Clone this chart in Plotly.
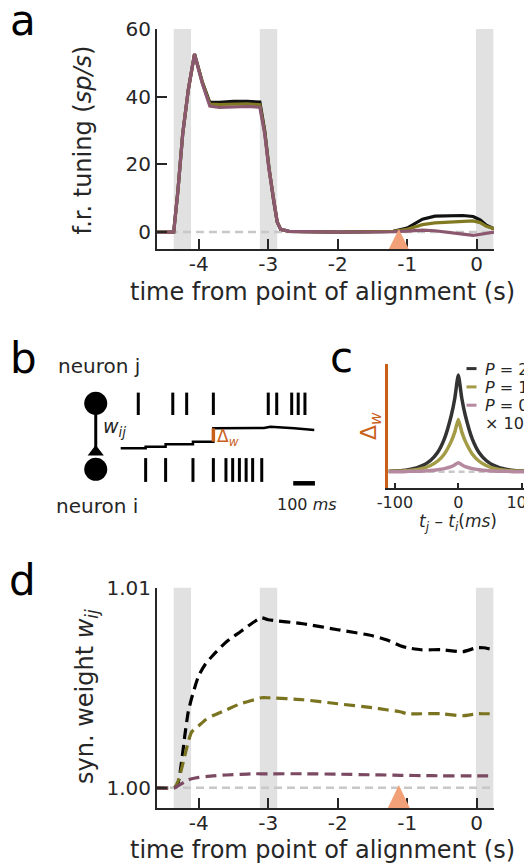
import plotly.graph_objects as go

W, H = 532, 865
OFF = 8  # page body margin offset of the rendered figure
FONT = "DejaVu Sans"
INK = "#262626"
ORANGE = "#c8601a"
TRI = "#f2a077"
BAND = "#e1e1e1"
GRAYDASH = "#c8c8c8"


def px(x):
    return (x - OFF) / W


def py(y):
    return 1 - (y - OFF) / H


# ---------------- data: panel a (firing-rate tuning, sp/s) ----------------
t_a = [-4.6, -4.36, -4.3, -4.23, -4.15, -4.06, -3.95, -3.84, -3.7, -3.5, -3.3, -3.12,
       -3.05, -2.99, -2.92, -2.87, -2.82, -2.7, -2.0, -1.5, -1.2, -1.0, -0.9, -0.78,
       -0.6, -0.4, -0.2, -0.05, 0.05, 0.14, 0.25]
fr_black = [0, 0, 12, 29, 42, 52.6, 44.5, 38.3, 38.3, 38.6, 38.6, 38.4,
            30, 19.3, 9, 3, 0.8, 0.2, 0, 0, 0.2, 1.2, 2.4, 3.8,
            4.7, 4.8, 4.9, 4.6, 3.6, 2.0, 1.0]
fr_olive = [0, 0, 12, 29, 42, 52.6, 44.3, 37.8, 37.7, 37.9, 37.9, 37.6,
            29.5, 19.0, 9, 3, 0.8, 0.2, 0, 0, 0.2, 0.8, 1.5, 2.2,
            2.7, 3.0, 3.2, 3.3, 2.8, 1.7, 1.0]
fr_purple = [0, 0, 12, 29, 42, 52.6, 44.0, 37.2, 36.8, 37.0, 37.1, 36.9,
             29.0, 18.8, 8.8, 3, 0.8, 0.2, 0, 0, 0.1, 0.3, 0.5, 0.6,
             0.4, 0.0, -0.6, -1.0, -0.6, -0.2, 0.0]

# ---------------- data: panel d (synaptic weight) ----------------
t_d = [-4.6, -4.35, -4.3, -4.25, -4.2, -4.15, -4.1, -4.0, -3.9, -3.8, -3.6, -3.4, -3.2,
       -3.1, -3.0, -2.5, -2.0, -1.5, -1.3, -1.1, -1.0, -0.8, -0.5, -0.2, 0.0, 0.1, 0.25]
w_black = [1.0, 1.0, 1.0002, 1.0012, 1.0026, 1.0038, 1.0045, 1.0056, 1.0062, 1.0066,
           1.0073, 1.0078, 1.0083, 1.0085, 1.0084, 1.0082, 1.0079, 1.0076, 1.0074,
           1.0071, 1.0070, 1.0069, 1.0069, 1.0068, 1.0070, 1.0070, 1.0069]
w_olive = [1.0, 1.0, 1.0003, 1.0009, 1.0016, 1.0023, 1.0028, 1.0031, 1.0034, 1.0036,
           1.0039, 1.0042, 1.0044, 1.0045, 1.0045, 1.0044, 1.0042, 1.0040, 1.0039,
           1.0038, 1.0037, 1.0037, 1.0037, 1.0036, 1.0037, 1.0037, 1.0037]
w_purple = [1.0, 1.0, 1.0001, 1.0002, 1.0003, 1.0004, 1.00045, 1.00052, 1.00056, 1.0006,
            1.00064, 1.00067, 1.0007, 1.0007, 1.0007, 1.0007, 1.00068, 1.00065, 1.00064,
            1.00062, 1.00062, 1.00061, 1.0006, 1.0006, 1.0006, 1.0006, 1.0006]

# ---------------- data: panel c (STDP window, x10^-4) ----------------
t_c = [-110, -99, -88, -77, -66, -55, -44, -33, -22, -11, -5.5, 0,
       5.5, 11, 22, 33, 44, 55, 66, 77, 88, 99, 110]
dw_black = [0.01, 0.02, 0.03, 0.06, 0.10, 0.17, 0.29, 0.49, 0.85, 1.46, 1.90, 2.50,
            1.90, 1.46, 0.85, 0.49, 0.29, 0.17, 0.10, 0.06, 0.03, 0.02, 0.01]
dw_olive = [0.01, 0.01, 0.02, 0.03, 0.05, 0.09, 0.16, 0.27, 0.46, 0.79, 1.03, 1.35,
            1.03, 0.79, 0.46, 0.27, 0.16, 0.09, 0.05, 0.03, 0.02, 0.01, 0.01]
dw_purple = [0, 0, 0, 0.01, 0.01, 0.02, 0.03, 0.05, 0.08, 0.13, 0.18, 0.23,
             0.18, 0.13, 0.08, 0.05, 0.03, 0.02, 0.01, 0.01, 0, 0, 0]
legend_labels = ["<i>P</i> = 2.5", "<i>P</i> = 1.35", "<i>P</i> = 0.23"]

# ---------------- data: panel b (schematic spike trains, ms) ----------------
spikes_j = [81, 240, 304, 427, 680, 719, 788, 818, 849]
spikes_i = [115, 207, 333, 427, 485, 516, 547, 578, 608, 650]
wtrace_t = [0, 115, 115, 207, 207, 333, 333, 427, 427, 660, 690, 730, 800, 892]
wtrace_v = [41.7, 41.7, 43.3, 43.3, 45.7, 45.7, 48.3, 48.3, 61.7, 62.0, 63.3, 63.0, 61.8, 60.0]
dw_time = 427
dw_from, dw_to = 48.3, 61.7
scale_ms = [795, 895]

x_ticks = [-4, -3, -2, -1, 0]
x_ticktext = ["-4", "-3", "-2", "-1", "0"]
a_yticks = [0, 20, 40, 60]
d_yticks = [1.00, 1.01]
c_xticks = [-100, 0, 100]
c_xticktext = ["-100", "0", "100"]
bands = [(-4.36, -4.11), (-3.12, -2.87), (-0.01, 0.24)]
event_time = -1.12

COL_A = ["#111111", "#827a22", "#8b5870"]
COL_D = ["#000000", "#7a7320", "#7b4a62"]
COL_C = ["#333333", "#a39b45", "#b58aa0"]

fig = go.Figure()

# ---- panel a
fig.add_trace(go.Scatter(x=[t_a[0], t_a[-1]], y=[0, 0], mode="lines",
                         line=dict(color=GRAYDASH, width=2.5, dash="8px,5px"),
                         xaxis="x", yaxis="y", showlegend=False, hoverinfo="skip"))
for ys, c in zip([fr_black, fr_olive, fr_purple], COL_A):
    fig.add_trace(go.Scatter(x=t_a, y=ys, mode="lines", line=dict(color=c, width=3.2),
                             xaxis="x", yaxis="y", showlegend=False))

# ---- panel d
fig.add_trace(go.Scatter(x=[t_d[0], t_d[-1]], y=[1.0, 1.0], mode="lines",
                         line=dict(color=GRAYDASH, width=2.5, dash="8px,5px"),
                         xaxis="x2", yaxis="y2", showlegend=False, hoverinfo="skip"))
for ys, c in zip([w_black, w_olive, w_purple], COL_D):
    fig.add_trace(go.Scatter(x=t_d, y=ys, mode="lines",
                             line=dict(color=c, width=3.2, dash="11px,6px", shape="spline", smoothing=0.6),
                             xaxis="x2", yaxis="y2", showlegend=False))

# ---- panel c
fig.add_trace(go.Scatter(x=[t_c[0], t_c[-1]], y=[0, 0], mode="lines",
                         line=dict(color=GRAYDASH, width=2.5, dash="6px,4px"),
                         xaxis="x3", yaxis="y3", showlegend=False, hoverinfo="skip"))
for ys, c in zip([dw_black, dw_olive, dw_purple], COL_C):
    fig.add_trace(go.Scatter(x=t_c, y=ys, mode="lines",
                             line=dict(color=c, width=3.5, shape="spline", smoothing=0.5),
                             xaxis="x3", yaxis="y3", showlegend=False))

# ---- panel b
ROW_J, ROW_I = 86.2, 20.0
NEURON_X = -115
fig.add_trace(go.Scatter(x=[NEURON_X, NEURON_X], y=[ROW_J, 40], mode="lines",
                         line=dict(color="black", width=3), xaxis="x4", yaxis="y4",
                         showlegend=False, cliponaxis=False))
fig.add_trace(go.Scatter(x=[NEURON_X, NEURON_X], y=[ROW_J + 0.5, ROW_I + 0.7], mode="markers",
                         marker=dict(symbol="circle", size=23, color="black"),
                         xaxis="x4", yaxis="y4", showlegend=False, cliponaxis=False))
fig.add_trace(go.Scatter(x=[NEURON_X], y=[38], mode="markers",
                         marker=dict(symbol="triangle-up", size=14, color="black"),
                         xaxis="x4", yaxis="y4", showlegend=False, cliponaxis=False))
for sp, row, sz in [(spikes_j, ROW_J, 16), (spikes_i, ROW_I, 17)]:
    fig.add_trace(go.Scatter(x=sp, y=[row] * len(sp), mode="markers",
                             marker=dict(symbol="line-ns", size=sz,
                                         line=dict(color="black", width=3)),
                             xaxis="x4", yaxis="y4", showlegend=False, cliponaxis=False))
fig.add_trace(go.Scatter(x=wtrace_t, y=wtrace_v, mode="lines",
                         line=dict(color="black", width=2.5), xaxis="x4", yaxis="y4",
                         showlegend=False, cliponaxis=False))
fig.add_trace(go.Scatter(x=[dw_time, dw_time], y=[dw_from, dw_to], mode="lines",
                         line=dict(color=ORANGE, width=3.5), xaxis="x4", yaxis="y4",
                         showlegend=False, cliponaxis=False))
fig.add_trace(go.Scatter(x=scale_ms, y=[6.7, 6.7], mode="lines",
                         line=dict(color="black", width=4.5), xaxis="x4", yaxis="y4",
                         showlegend=False, cliponaxis=False))

axis_common = dict(showgrid=False, zeroline=False, showline=True, linecolor=INK, linewidth=2,
                   ticks="inside", ticklen=10, tickwidth=2, tickcolor=INK, automargin=False,
                   tickfont=dict(family=FONT, size=20, color=INK))

fig.update_layout(
    template="none",
    width=W, height=H, margin=dict(l=0, r=0, t=0, b=0, pad=0, autoexpand=False),
    autosize=False, showlegend=False,
    paper_bgcolor="white", plot_bgcolor="rgba(0,0,0,0)",
    font=dict(family=FONT, color=INK),
    xaxis=dict(domain=[px(157), px(494)], range=[-4.6, 0.25], anchor="y",
               tickvals=x_ticks, ticktext=x_ticktext, ticklabelstandoff=-4, **axis_common),
    yaxis=dict(domain=[py(249), py(29)], range=[-5, 60], anchor="x",
               tickvals=a_yticks, **axis_common),
    xaxis2=dict(domain=[px(157), px(494)], range=[-4.6, 0.25], anchor="y2",
                tickvals=x_ticks, ticktext=x_ticktext, ticklabelstandoff=-4, **axis_common),
    yaxis2=dict(domain=[py(808), py(587.7)], range=[0.99899, 1.01], anchor="x2",
                tickvals=d_yticks, tickformat=".2f", **axis_common),
    xaxis3=dict(domain=[px(388.3), px(528.3)], range=[-110.5, 110.5], anchor="y3",
                tickvals=c_xticks, ticktext=c_xticktext, showgrid=False, zeroline=False,
                showline=True, linecolor=INK, linewidth=2, ticks="inside", ticklen=5,
                tickwidth=2, tickcolor=INK, automargin=False, ticklabelstandoff=-2,
                ticklabeloverflow="allow",
                tickfont=dict(family=FONT, size=16, color=INK)),
    yaxis3=dict(domain=[py(488.3), py(364)], range=[-0.429, 2.784], anchor="x3",
                showgrid=False, zeroline=False, showline=True, linecolor=ORANGE, linewidth=2.5,
                ticks="", showticklabels=False, automargin=False),
    xaxis4=dict(domain=[px(60), px(330)], range=[-279.7, 964.5], anchor="y4", visible=False,
                automargin=False),
    yaxis4=dict(domain=[py(490), py(380)], range=[0, 110], anchor="x4", visible=False,
                automargin=False),
)

shapes = []
for xr, yr in [("x", "y domain"), ("x2", "y2 domain")]:
    for b0, b1 in bands:
        shapes.append(dict(type="rect", xref=xr, yref=yr, x0=b0, x1=b1, y0=0, y1=1,
                           fillcolor=BAND, line=dict(width=0), layer="below"))
shapes.append(dict(type="path", xref="x", yref="y domain", xsizemode="pixel", ysizemode="pixel",
                   xanchor=event_time, yanchor=0, path="M-10,0 L10,0 L0,20 Z",
                   fillcolor=TRI, line=dict(width=0), layer="above"))
shapes.append(dict(type="path", xref="x2", yref="y2 domain", xsizemode="pixel", ysizemode="pixel",
                   xanchor=event_time, yanchor=0, path="M-11,0 L11,0 L0,23 Z",
                   fillcolor=TRI, line=dict(width=0), layer="above"))
# legend samples panel c
for yy, c in zip([368.6, 386.9, 405.2], COL_C):
    shapes.append(dict(type="line", xref="paper", yref="paper", x0=px(466.5), x1=px(476.5),
                       y0=py(yy), y1=py(yy), line=dict(color=c, width=3)))
fig.update_layout(shapes=shapes)

ann = []


def text(x, y, s, size, color=INK, angle=0, xanchor="center"):
    ann.append(dict(x=px(x), y=py(y), xref="paper", yref="paper", text=s, showarrow=False,
                    font=dict(family=FONT, size=size, color=color), textangle=angle,
                    xanchor=xanchor, yanchor="middle"))


# panel letters
text(22.5, 20.5, "a", 42, "black")
text(23.3, 358.8, "b", 42, "black")
text(341.7, 357.2, "c", 42, "black")
text(22.5, 580.5, "d", 42, "black")
# axis titles
text(322.5, 292, "time from point of alignment (s)", 24)
text(322.5, 850, "time from point of alignment (s)", 24)
text(82.5, 140, "f.r. tuning (<i>sp/s</i>)", 24, angle=-90)
text(86, 697, "syn. weight <i>w<sub>ij</sub></i>", 24, angle=-90)
text(458, 522, "<i>t<sub>j</sub></i> – <i>t<sub>i</sub></i>(<i>ms</i>)", 17)
text(370, 426, "Δ<sub><i>w</i></sub>", 22, ORANGE, angle=-90)
# panel b labels
text(99.2, 366.4, "neuron j", 20)
text(97, 506.4, "neuron i", 20)
text(306.5, 504, "100 <i>ms</i>", 16)
text(100.5, 427.5, "<i>w<sub>ij</sub></i>", 19, xanchor="left")
text(214.5, 437, "Δ<sub><i>w</i></sub>", 17, ORANGE, xanchor="left")
# legend text panel c
for yy, lab in zip([369.5, 387.1, 405.3], legend_labels):
    text(482.5, yy, lab, 16, xanchor="left")
text(482.5, 423, "× 10<sup>−4</sup>", 16, xanchor="left")

fig.update_layout(annotations=ann)

fig.write_html("out.html")
